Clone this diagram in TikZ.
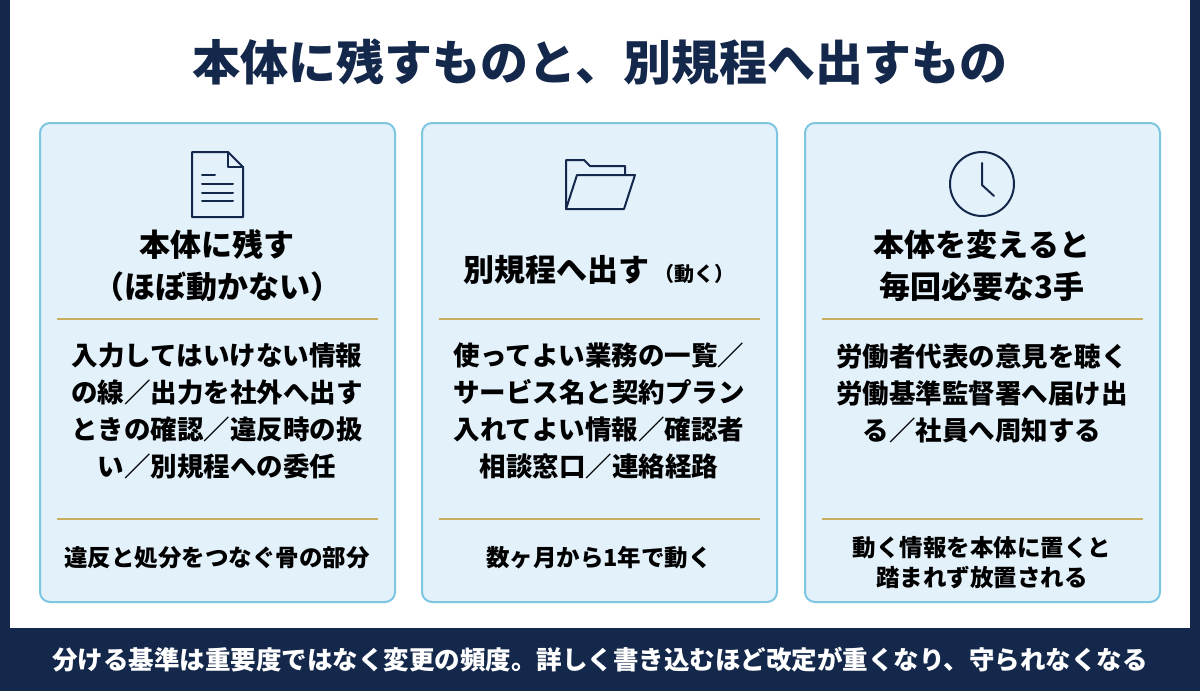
\documentclass[tikz,border=0pt]{standalone}
\usepackage{fontspec}
\setmainfont{Noto Sans CJK JP}
\usetikzlibrary{positioning}
\definecolor{navy}{HTML}{14284B}
\definecolor{cardfill}{HTML}{E3F1FB}
\definecolor{cardline}{HTML}{7CC6DF}
\definecolor{gold}{HTML}{C9AE5D}
\tikzset{
	card/.style={draw=cardline,line width=2pt,fill=cardfill,rounded corners=10pt},
	rule/.style={draw=gold,line width=2.5pt},
	head/.style={align=center,font=\fontsize{31}{42}\selectfont\bfseries,text=black},
	body/.style={align=center,font=\fontsize{26.5}{37}\selectfont\bfseries,text=black},
	foot/.style={align=center,font=\fontsize{23.5}{30}\selectfont\bfseries,text=black},
	icon/.style={draw=navy,line width=2pt,line join=round,line cap=round},
}
\begin{document}
\begin{tikzpicture}[x=1pt,y=-1pt]
	\useasboundingbox (0,0) rectangle (1200,691);
	
	%frame.....................
	\fill [navy] (0,0) rectangle (10,691);
	\fill [navy] (1190,0) rectangle (1200,691);
	\fill [navy] (0,628) rectangle (1200,691);
	
	%title......................
	\node [font=\fontsize{48}{54}\selectfont\bfseries,text=navy] (title) at (600,62) {本体に残すものと、別規程へ出すもの};
	
	%cards......................
	\foreach \x in {40,422,805}{
		\draw [card] (\x,123) rectangle ++(355,479);
		\draw [rule] (\x+17,319) -- ++(321,0);
		\draw [rule] (\x+17,519) -- ++(321,0);
	}
	
	% doc icon...................
	\draw [icon] (192,152) -- (228,152) -- (243,167) -- (243,217) -- (192,217) -- cycle;
	\draw [icon] (228,152) -- (228,167) -- (243,167);
	\draw [icon] (202,175) -- (215,175) (202,184) -- (233,184) (202,193) -- (233,193) (202,201) -- (233,201);
	
	% folder icon................
	\draw [icon] (566,209) -- (566,160) -- (584,160) -- (590,166) -- (625,166) -- (625,175);
	\draw [icon] (566,209) -- (577,175) -- (635,175) -- (624,209) -- cycle;
	
	% clock icon.................
	\draw [icon] (982,184) circle (32);
	\draw [icon] (982,163) -- (982,185) -- (994,196);
	
	% card 1.....................
	\node [head] (h1) at (217,266) {本体に残す\\（ほぼ動かない）};
	\node [body] (b1) at (217,411) {入力してはいけない情報\\の線／出力を社外へ出す\\ときの確認／違反時の扱\\い／別規程への委任};
	\node [foot] (f1) at (217,558) {違反と処分をつなぐ骨の部分};
	
	% card 2.....................
	\node [head] (h2) at (599,270) {別規程へ出す\,{\fontsize{20}{22}\selectfont（動く）}};
	\node [body] (b2) at (599,411) {使ってよい業務の一覧／\\サービス名と契約プラン\\入れてよい情報／確認者\\相談窓口／連絡経路};
	\node [foot] (f2) at (599,558) {数ヶ月から1年で動く};
	
	% card 3.....................
	\node [head] (h3) at (982,266) {本体を変えると\\毎回必要な3手};
	\node [body] (b3) at (982,393) {労働者代表の意見を聴く\\労働基準監督署へ届け出\\る／社員へ周知する};
	\node [foot] (f3) at (982,563) {動く情報を本体に置くと\\踏まれず放置される};
	
	% bottom line................
	\node [font=\fontsize{25.5}{28}\selectfont\bfseries,text=white] (note) at (600,660) {分ける基準は重要度ではなく変更の頻度。詳しく書き込むほど改定が重くなり、守られなくなる};
\end{tikzpicture}
\end{document}
